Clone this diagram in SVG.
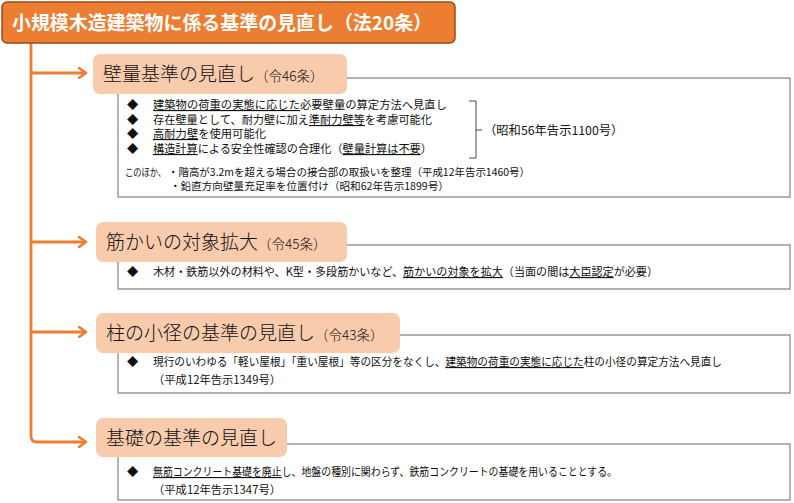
<svg xmlns="http://www.w3.org/2000/svg" width="794" height="503" viewBox="0 0 794 503">
<defs>
<marker id="arr" markerWidth="10" markerHeight="12" refX="8" refY="6" orient="auto" markerUnits="userSpaceOnUse">
<path d="M1,1 L8,6 L1,11" fill="none" stroke="#ED7D31" stroke-width="2.6" stroke-linecap="round" stroke-linejoin="round"/>
</marker>
</defs>
<style>
text{font-family:"Noto Sans CJK JP","Liberation Sans",sans-serif;fill:#111}
.title{font-size:19px;font-weight:bold;fill:#fff}
.pill{fill:#F8CBAD}
.ph{font-size:19px;font-weight:300}
.ps{font-size:13.5px;font-weight:300}
.box{fill:#fff;stroke:#8a8a8a;stroke-width:1.3}
.b{font-size:11.3px}
.s{font-size:10.6px}
.u{text-decoration:underline}
.con{fill:none;stroke:#ED7D31;stroke-width:2.8}
</style>
<rect width="794" height="503" fill="#fff"/>
<g id="connectors">
<path class="con" d="M31,43 V436 Q31,442 37,442 H86" marker-end="url(#arr)"/>
<path class="con" d="M31,73 H86" marker-end="url(#arr)"/>
<path class="con" d="M31,242 H86" marker-end="url(#arr)"/>
<path class="con" d="M31,332 H86" marker-end="url(#arr)"/>
</g>
<g id="title">
<rect x="2" y="2" width="453" height="41" rx="5" fill="#ED7D31" stroke="#9A4A16" stroke-width="1.5"/>
<text class="title" x="12" y="30" textLength="420" lengthAdjust="spacingAndGlyphs">小規模木造建築物に係る基準の見直し（法20条）</text>
</g>
<g id="sec1">
<rect class="box" x="118" y="78" width="672" height="119"/>
<rect class="pill" x="93" y="54" width="254" height="40" rx="7"/>
<text x="103" y="81"><tspan class="ph">壁量基準の見直し</tspan><tspan class="ps">（令46条）</tspan></text>
<text class="b" x="127" y="109">◆</text>
<text class="b" x="127" y="124">◆</text>
<text class="b" x="127" y="138">◆</text>
<text class="b" x="127" y="153">◆</text>
<text class="b" x="153" y="109" textLength="294" lengthAdjust="spacingAndGlyphs"><tspan class="u">建築物の荷重の実態に応じた</tspan>必要壁量の算定方法へ見直し</text>
<text class="b" x="153" y="124" textLength="279" lengthAdjust="spacingAndGlyphs">存在壁量として、耐力壁に加え<tspan class="u">準耐力壁等</tspan>を考慮可能化</text>
<text class="b" x="153" y="138" textLength="113" lengthAdjust="spacingAndGlyphs"><tspan class="u">高耐力壁</tspan>を使用可能化</text>
<text class="b" x="153" y="153" textLength="279" lengthAdjust="spacingAndGlyphs"><tspan class="u">構造計算</tspan>による安全性確認の合理化（<tspan class="u">壁量計算は不要</tspan>）</text>
<path d="M469,101 H476 V158 H469 M476,130 H482" fill="none" stroke="#333" stroke-width="0.9"/>
<text x="484" y="135" style="font-size:12.3px">（昭和56年告示1100号）</text>
<text class="s" x="125" y="176" textLength="41" lengthAdjust="spacingAndGlyphs">このほか、</text>
<text class="s" x="168" y="176" textLength="362" lengthAdjust="spacingAndGlyphs">・階高が3.2mを超える場合の接合部の取扱いを整理（平成12年告示1460号）</text>
<text class="s" x="170" y="190">・鉛直方向壁量充足率を位置付け（昭和62年告示1899号）</text>
</g>
<g id="sec2">
<rect class="box" x="118" y="245" width="672" height="44"/>
<rect class="pill" x="96" y="222" width="251" height="40" rx="7"/>
<text x="106" y="249"><tspan class="ph">筋かいの対象拡大</tspan><tspan class="ps">（令45条）</tspan></text>
<text class="b" x="127" y="276">◆</text>
<text class="b" x="153" y="276" textLength="505" lengthAdjust="spacingAndGlyphs">木材・鉄筋以外の材料や、K型・多段筋かいなど、<tspan class="u">筋かいの対象を拡大</tspan>（当面の間は<tspan class="u">大臣認定</tspan>が必要）</text>
</g>
<g id="sec3">
<rect class="box" x="118" y="335" width="672" height="58"/>
<rect class="pill" x="96" y="313" width="304" height="40" rx="7"/>
<text x="106" y="340"><tspan class="ph">柱の小径の基準の見直し</tspan><tspan class="ps">（令43条）</tspan></text>
<text class="b" x="127" y="366">◆</text>
<text class="b" x="153" y="366" textLength="569" lengthAdjust="spacingAndGlyphs">現行のいわゆる「軽い屋根」「重い屋根」等の区分をなくし、<tspan class="u">建築物の荷重の実態に応じた</tspan>柱の小径の算定方法へ見直し</text>
<text class="b" x="153" y="384">（平成12年告示1349号）</text>
</g>
<g id="sec4">
<rect class="box" x="118" y="444" width="672" height="56"/>
<rect class="pill" x="96" y="418" width="191" height="39" rx="7"/>
<text x="106" y="445"><tspan class="ph">基礎の基準の見直し</tspan></text>
<text class="b" x="127" y="476">◆</text>
<text class="b" x="153" y="476" textLength="464" lengthAdjust="spacingAndGlyphs"><tspan class="u">無筋コンクリート基礎を廃止</tspan>し、地盤の種別に関わらず、鉄筋コンクリートの基礎を用いることとする。</text>
<text class="b" x="153" y="494">（平成12年告示1347号）</text>
</g>
</svg>
